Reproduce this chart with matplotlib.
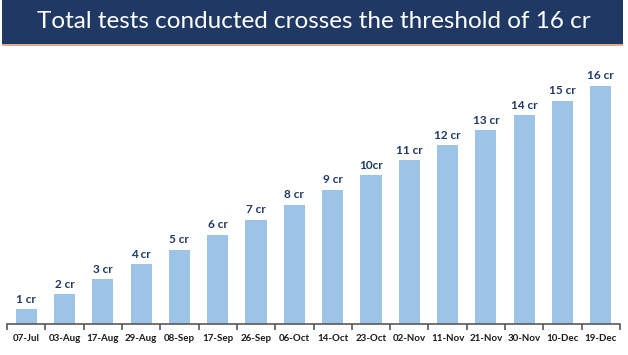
import matplotlib.pyplot as plt
from matplotlib.patches import Rectangle

dates = ['07-Jul', '03-Aug', '17-Aug', '29-Aug', '08-Sep', '17-Sep', '26-Sep', '06-Oct',
         '14-Oct', '23-Oct', '02-Nov', '11-Nov', '21-Nov', '30-Nov', '10-Dec', '19-Dec']
tests_cr = [1, 2, 3, 4, 5, 6, 7, 8, 9, 10, 11, 12, 13, 14, 15, 16]
bar_labels = ['1 cr', '2 cr', '3 cr', '4 cr', '5 cr', '6 cr', '7 cr', '8 cr',
              '9 cr', '10cr', '11 cr', '12 cr', '13 cr', '14 cr', '15 cr', '16 cr']
title = 'Total tests conducted crosses the threshold of 16 cr'

W, H = 628, 355
fig = plt.figure(figsize=(W / 100, H / 100), dpi=100)
fig.patch.set_facecolor('white')

# title band
fig.patches.append(Rectangle((2 / W, 1 - 44 / H), 621 / W, 44 / H, transform=fig.transFigure,
                             facecolor='#203864', edgecolor='none'))
fig.patches.append(Rectangle((2 / W, 1 - 46 / H), 621 / W, 1.6 / H, transform=fig.transFigure,
                             facecolor='#e8a88a', edgecolor='none'))
fig.text(0.5, 1 - 22 / H, title, color='white', fontsize=17.5, family='Lato',
         ha='center', va='center')

# axes: baseline at y=324, 15 px per crore
ytop = 17.5
ax = fig.add_axes([7 / W, (H - 324) / H, 613 / W, 17.5 * 14.9 / H])
x = range(len(dates))
bars = ax.bar(x, tests_cr, width=0.55, color='#9dc3e6')
for rect, lbl in zip(bars, bar_labels):
    ax.text(rect.get_x() + rect.get_width() / 2, rect.get_height() + 0.3, lbl,
            ha='center', va='bottom', fontsize=8.5, fontweight='bold', family='Lato',
            color='#1f3864')

ax.set_xlim(-0.5, len(dates) - 0.5)
ax.set_ylim(0, ytop)
for s in ['top', 'right', 'left']:
    ax.spines[s].set_visible(False)
ax.spines['bottom'].set_color('#595959')
ax.spines['bottom'].set_linewidth(1.2)
ax.set_yticks([])
ax.set_xticks(list(x))
ax.set_xticklabels(dates, fontsize=7, fontweight='bold', family='Lato', color='#1a1a1a')
ax.tick_params(axis='x', which='major', length=0, pad=7)
ax.set_xticks([i - 0.5 for i in range(len(dates) + 1)], minor=True)
ax.tick_params(axis='x', which='minor', length=4, color='#595959', width=1.2)

fig.savefig('out.png', dpi=100)
